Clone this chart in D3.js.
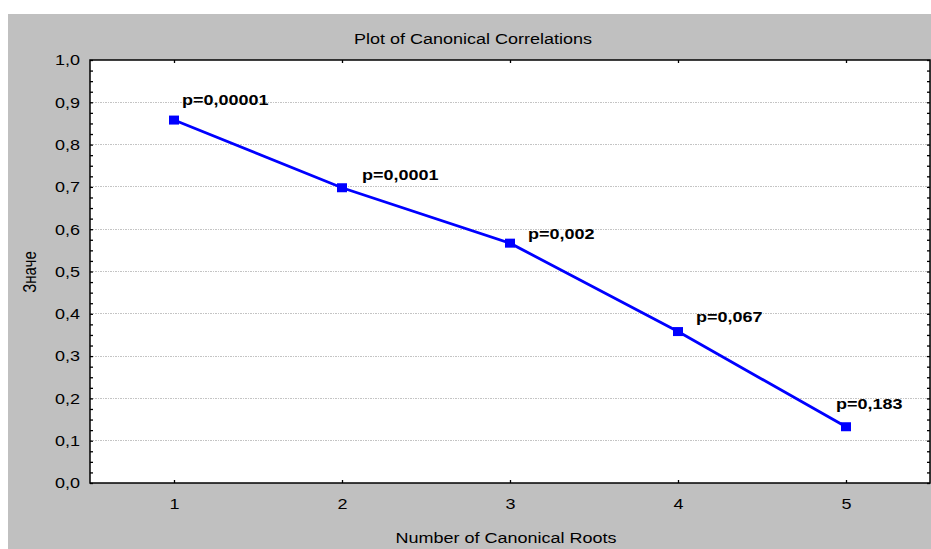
<!DOCTYPE html>
<html>
<head>
<meta charset="utf-8">
<script src="https://cdn.jsdelivr.net/npm/d3@7"></script>
<style>
  body { margin: 0; background: #fff; }
  text { font-family: "Liberation Sans", Arial, sans-serif; font-size: 15px; fill: #000; }
</style>
</head>
<body>
<script>
  var roots = [1, 2, 3, 4, 5];
  var correlations = [0.858, 0.698, 0.567, 0.358, 0.133];
  var pLabels = ["p=0,00001", "p=0,0001", "p=0,002", "p=0,067", "p=0,183"];
  // where each p label sits relative to its point (dx to left edge, dy to baseline)
  var labelDx = [8, 20, 18, 18, -10];
  var labelDy = [-15, -8, -4, -10, -18];

  var w = 931;
  var h = 549;
  var sx = 1.2; // the original text is stretched sideways

  var margin = {top: 60, bottom: 66, left: 90, right: 1};
  var width = w - margin.left - margin.right;
  var height = h - margin.top - margin.bottom;

  var svg = d3.select("body").append("svg")
              .attr("width", w)
              .attr("height", h);

  svg.append("rect")
     .attr("x", 8).attr("y", 14)
     .attr("width", w - 8).attr("height", h - 14)
     .attr("fill", "#c0c0c0");

  var chart = svg.append("g")
              .attr("transform", "translate(" + margin.left + "," + margin.top + ")");

  chart.append("rect")
       .attr("width", width).attr("height", height)
       .attr("fill", "#fff");

  var x = d3.scaleLinear().domain([0.5, 5.5]).range([0, width]);
  var y = d3.scaleLinear().domain([0, 1]).range([height, 0]);

  var comma = d3.formatLocale({decimal: ",", thousands: " ", grouping: [3], currency: ["", ""]});

  function stretch(sel) {
    sel.each(function() {
      var t = d3.select(this);
      var tx = +t.attr("x") || 0;
      var ty = +t.attr("y") || 0;
      t.attr("x", 0).attr("y", 0)
       .attr("transform", "translate(" + tx + "," + ty + ") scale(" + sx + ",1)");
    });
  }

  // gridlines
  chart.append("g")
       .selectAll("line")
       .data(d3.range(1, 10).map(function(i){ return i / 10; }))
       .enter().append("line")
       .attr("x1", 0).attr("x2", width)
       .attr("y1", function(d){ return y(d); })
       .attr("y2", function(d){ return y(d); })
       .attr("stroke", "#c4c4c4")
       .attr("stroke-dasharray", "1.5,1")
       .attr("shape-rendering", "crispEdges");

  var minorY = d3.range(0, 41).map(function(i){ return i / 40; });

  // inward tick marks on all four sides
  var tickAxes = [
    {ax: d3.axisRight(y).tickValues(minorY), t: "translate(0,0)"},
    {ax: d3.axisLeft(y).tickValues(minorY), t: "translate(" + width + ",0)"},
    {ax: d3.axisTop(x).tickValues(roots), t: "translate(0," + height + ")"},
    {ax: d3.axisBottom(x).tickValues(roots), t: "translate(0,0)"}
  ];
  tickAxes.forEach(function(a){
    var g = chart.append("g")
         .attr("transform", a.t)
         .call(a.ax.tickSize(3).tickFormat(""));
    g.select(".domain").remove();
    g.selectAll("line").attr("stroke", "#000").attr("stroke-width", 1.3);
  });

  // tick labels
  var yAxis = chart.append("g")
       .call(d3.axisLeft(y).tickValues(d3.range(0, 11).map(function(i){ return i / 10; }))
               .tickSize(0).tickPadding(10).tickFormat(comma.format(".1f")));
  yAxis.select(".domain").remove();
  yAxis.selectAll("text").attr("font-size", null).attr("font-family", null);
  stretch(yAxis.selectAll("text"));

  var xAxis = chart.append("g")
       .attr("transform", "translate(0," + height + ")")
       .call(d3.axisBottom(x).tickValues(roots).tickSize(0).tickPadding(15).tickFormat(d3.format("d")));
  xAxis.select(".domain").remove();
  xAxis.selectAll("text").attr("font-size", null).attr("font-family", null);
  stretch(xAxis.selectAll("text"));

  // frame
  chart.append("rect")
       .attr("width", width).attr("height", height)
       .attr("fill", "none")
       .attr("stroke", "#000")
       .attr("stroke-width", 1.5);

  // line and points
  var line = d3.line()
              .x(function(d, i){ return x(roots[i]); })
              .y(function(d){ return y(d); });

  chart.append("path")
       .datum(correlations)
       .attr("d", line)
       .attr("fill", "none")
       .attr("stroke", "#0000ff")
       .attr("stroke-width", 2.8);

  chart.selectAll(".point")
       .data(correlations)
       .enter().append("rect")
       .classed("point", true)
       .attr("x", function(d, i){ return x(roots[i]) - 5; })
       .attr("y", function(d){ return y(d) - 4.5; })
       .attr("width", 10).attr("height", 9)
       .attr("fill", "#0000ff");

  var labels = chart.selectAll(".plabel")
       .data(correlations)
       .enter().append("text")
       .classed("plabel", true)
       .attr("x", function(d, i){ return x(roots[i]) + labelDx[i]; })
       .attr("y", function(d, i){ return y(d) + labelDy[i]; })
       .attr("font-weight", "bold")
       .text(function(d, i){ return pLabels[i]; });
  stretch(labels);

  // titles
  stretch(svg.append("text")
     .attr("x", 473).attr("y", 44)
     .attr("text-anchor", "middle")
     .text("Plot of Canonical Correlations"));

  stretch(svg.append("text")
     .attr("x", 506).attr("y", 543)
     .attr("text-anchor", "middle")
     .text("Number of Canonical Roots"));

  svg.append("text")
     .attr("text-anchor", "middle")
     .attr("transform", "translate(36,272) rotate(-90) scale(1," + sx + ")")
     .text("Значе");
</script>
</body>
</html>
